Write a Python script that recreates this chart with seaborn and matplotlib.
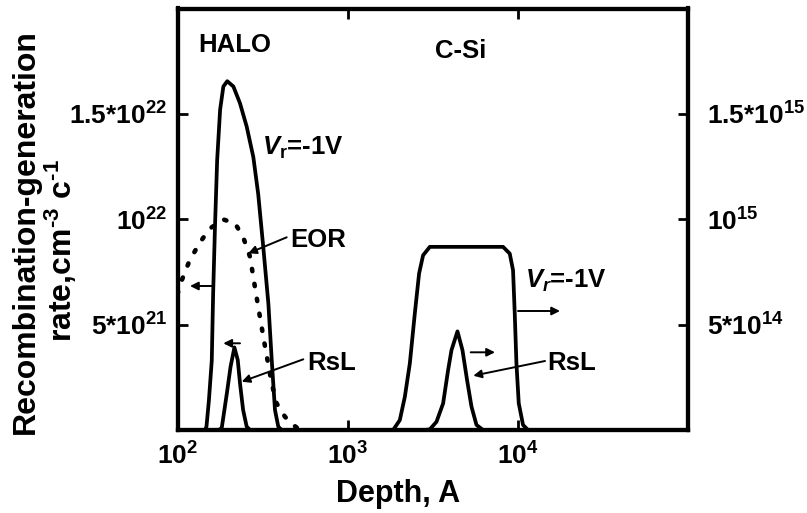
import numpy as np
import pandas as pd
import matplotlib
matplotlib.use("Agg")
import matplotlib.pyplot as plt
import seaborn as sns
from matplotlib.ticker import FixedLocator, NullLocator

# ---------------- data ----------------
# HALO, Vr=-1V (left axis), depth in A, rate in 1e21 cm^-3 c^-1
halo_depth = [145, 148, 153, 159, 162, 166, 171, 178, 186, 196, 213, 233, 255,
              279, 298, 319, 342, 358, 374, 391, 409]
halo_rate = [0.0, 0.16, 1.42, 3.3, 6.5, 9.6, 12.8, 15.2, 16.3, 16.55, 16.3, 15.5,
             14.4, 12.95, 11.2, 8.7, 6.0, 3.3, 0.95, 0.16, 0.0]

# HALO, EOR (dotted, left axis)
eor_depth = [100, 106, 118, 136, 155, 186, 218, 243, 267, 285, 305, 327, 358,
             382, 428, 479, 524]
eor_rate = [6.45, 7.11, 8.06, 8.92, 9.56, 9.99, 9.80, 9.16, 8.21, 6.79, 5.37,
            3.95, 2.21, 1.27, 0.63, 0.24, 0.0]

# HALO, RsL (left axis)
rsl_l_depth = [175, 182, 195, 205, 216, 226, 233, 243, 255, 267]
rsl_l_rate = [0.0, 0.1, 1.74, 3.0, 3.92, 3.32, 2.21, 0.95, 0.16, 0.0]

# C-Si, Vr=-1V (right axis), rate in 1e14
csi_depth = [1850, 2025, 2168, 2319, 2481, 2629, 2775, 3039, 8186, 8963, 9372,
             9590, 9812, 10123, 10728, 11477]
csi_rate = [0.0, 0.47, 1.58, 3.16, 5.53, 7.43, 8.29, 8.69, 8.69, 8.37, 7.58,
            5.53, 3.16, 1.27, 0.24, 0.0]

# C-Si, RsL (right axis)
rsl_r_depth = [2840, 3039, 3327, 3638, 3892, 4075, 4419, 4727, 5031, 5341,
               5714, 6247]
rsl_r_rate = [0.0, 0.03, 0.39, 1.26, 2.84, 3.79, 4.68, 3.79, 2.37, 1.11, 0.24, 0.0]

left_scale = 1e21
right_scale = 1e14

x_ticks = [1e2, 1e3, 1e4]
x_tick_labels = [r"$10^{2}$", r"$10^{3}$", r"$10^{4}$"]
left_ticks = [5e21, 1e22, 1.5e22]
left_tick_labels = [r"$5{*}10^{21}$", r"$10^{22}$", r"$1.5{*}10^{22}$"]
right_ticks = [5e14, 1e15, 1.5e15]
right_tick_labels = [r"$5{*}10^{14}$", r"$10^{15}$", r"$1.5{*}10^{15}$"]

# ---------------- style ----------------
sns.set_theme(style="white")
plt.rcParams.update({
    "font.family": ["Liberation Sans", "DejaVu Sans"],
    "font.weight": "bold",
    "mathtext.fontset": "custom",
    "mathtext.rm": "Liberation Sans:bold",
    "mathtext.bf": "Liberation Sans:bold",
    "mathtext.sf": "Liberation Sans:bold",
    "mathtext.it": "Liberation Sans:bold:italic",
    "mathtext.default": "rm",
    "axes.linewidth": 3.0,
    "axes.edgecolor": "black",
    "axes.labelcolor": "black",
    "text.color": "black",
    "xtick.color": "black",
    "ytick.color": "black",
})

fig = plt.figure(figsize=(8.07, 5.13), dpi=100)
ax = fig.add_axes([177.5 / 807, 1 - 430 / 513, (688 - 177.5) / 807, (430 - 8.5) / 513])
ax.set_xscale("log")
ax2 = ax.twinx()

LW = 2.7
sns.lineplot(x=halo_depth, y=np.array(halo_rate) * left_scale, ax=ax,
             color="black", estimator=None, sort=False, legend=False)
sns.lineplot(x=rsl_l_depth, y=np.array(rsl_l_rate) * left_scale, ax=ax,
             color="black", estimator=None, sort=False, legend=False)
sns.lineplot(x=eor_depth, y=np.array(eor_rate) * left_scale, ax=ax,
             color="black", estimator=None, sort=False, legend=False)
for ln in ax.lines:
    ln.set_linewidth(LW)
    ln.set_solid_joinstyle("round")
    ln.set_solid_capstyle("round")
eor_line = ax.lines[-1]
eor_line.set_linewidth(3.3)
eor_line.set_linestyle((0, (0.5, 2.8)))
eor_line.set_dash_capstyle("round")

sns.lineplot(x=csi_depth, y=np.array(csi_rate) * right_scale, ax=ax2,
             color="black", estimator=None, sort=False, legend=False)
sns.lineplot(x=rsl_r_depth, y=np.array(rsl_r_rate) * right_scale, ax=ax2,
             color="black", estimator=None, sort=False, legend=False)
for ln in ax2.lines:
    ln.set_linewidth(LW)
    ln.set_solid_joinstyle("round")
    ln.set_solid_capstyle("round")

ax.set_xlim(100, 1e5)
ax.set_ylim(0, 2e22)
ax2.set_ylim(0, 2e15)

ax.xaxis.set_major_locator(FixedLocator(x_ticks))
ax.xaxis.set_minor_locator(NullLocator())
ax.set_xticklabels(x_tick_labels)
ax.yaxis.set_major_locator(FixedLocator(left_ticks))
ax.yaxis.set_minor_locator(NullLocator())
ax.set_yticklabels(left_tick_labels)
ax2.yaxis.set_major_locator(FixedLocator(right_ticks))
ax2.yaxis.set_minor_locator(NullLocator())
ax2.set_yticklabels(right_tick_labels)

ax.tick_params(axis="x", which="major", direction="in", top=True, bottom=True,
               length=7, width=2.0, pad=9, labelsize=19)
ax.tick_params(axis="y", direction="in", left=True, right=False,
               length=7, width=2.0, pad=7, labelsize=19)
ax2.tick_params(axis="y", direction="in", right=True, left=False,
                length=7, width=2.0, pad=14, labelsize=19)
for a in (ax, ax2):
    for s in a.spines.values():
        s.set_linewidth(3.0)
        s.set_color("black")
    a.grid(False)

ax.set_xlabel("Depth, A", fontsize=22, fontweight="bold")
ax.xaxis.set_label_coords(0.4315, -0.116)
ax.set_ylabel("Recombination-generation", fontsize=23, fontweight="bold")
ax.yaxis.set_label_coords(-0.2674, 0.4698)
ax.text(-0.193, 0.427, r"rate,cm$^{\text{-}3}$ c$^{\text{-}1}$",
        transform=ax.transAxes, rotation=90, rotation_mode="anchor",
        ha="center", va="bottom", fontsize=23, fontweight="bold")
ax2.set_ylabel("")


def fx(px):
    return (px - 177.5) / 510.5


def fy(py):
    return (430 - py) / 421.5


TS = 18.5
texts = [
    ("HALO", 198, 52),
    ("C-Si", 435, 58),
    (r"$\mathit{V}_{\mathrm{r}}$=-1V", 262, 155),
    ("EOR", 290, 247),
    ("RsL", 307, 370),
    (r"$\mathit{V}_{\mathit{r}}$=-1V", 525, 288),
    ("RsL", 547, 370),
]
for s, px, py in texts:
    ax2.text(fx(px), fy(py), s, transform=ax2.transAxes, ha="left",
             va="baseline", fontsize=TS, fontweight="bold")

arrows = [
    ((286.7, 237.3), (248.3, 253.3)),
    ((213.3, 286.0), (190.0, 286.0)),
    ((240.0, 343.3), (223.3, 343.3)),
    ((303.3, 359.3), (241.7, 381.7)),
    ((518.0, 311.0), (560.0, 311.0)),
    ((470.7, 352.3), (495.0, 352.3)),
    ((545.0, 361.0), (473.3, 375.7)),
]
for (x0, y0), (x1, y1) in arrows:
    ax2.annotate("", xy=(fx(x1), fy(y1)), xytext=(fx(x0), fy(y0)),
                 xycoords="axes fraction", textcoords="axes fraction",
                 arrowprops=dict(arrowstyle="-|>", lw=1.4, color="black",
                                 mutation_scale=12, shrinkA=0, shrinkB=0))

fig.savefig("out.png", dpi=100)
